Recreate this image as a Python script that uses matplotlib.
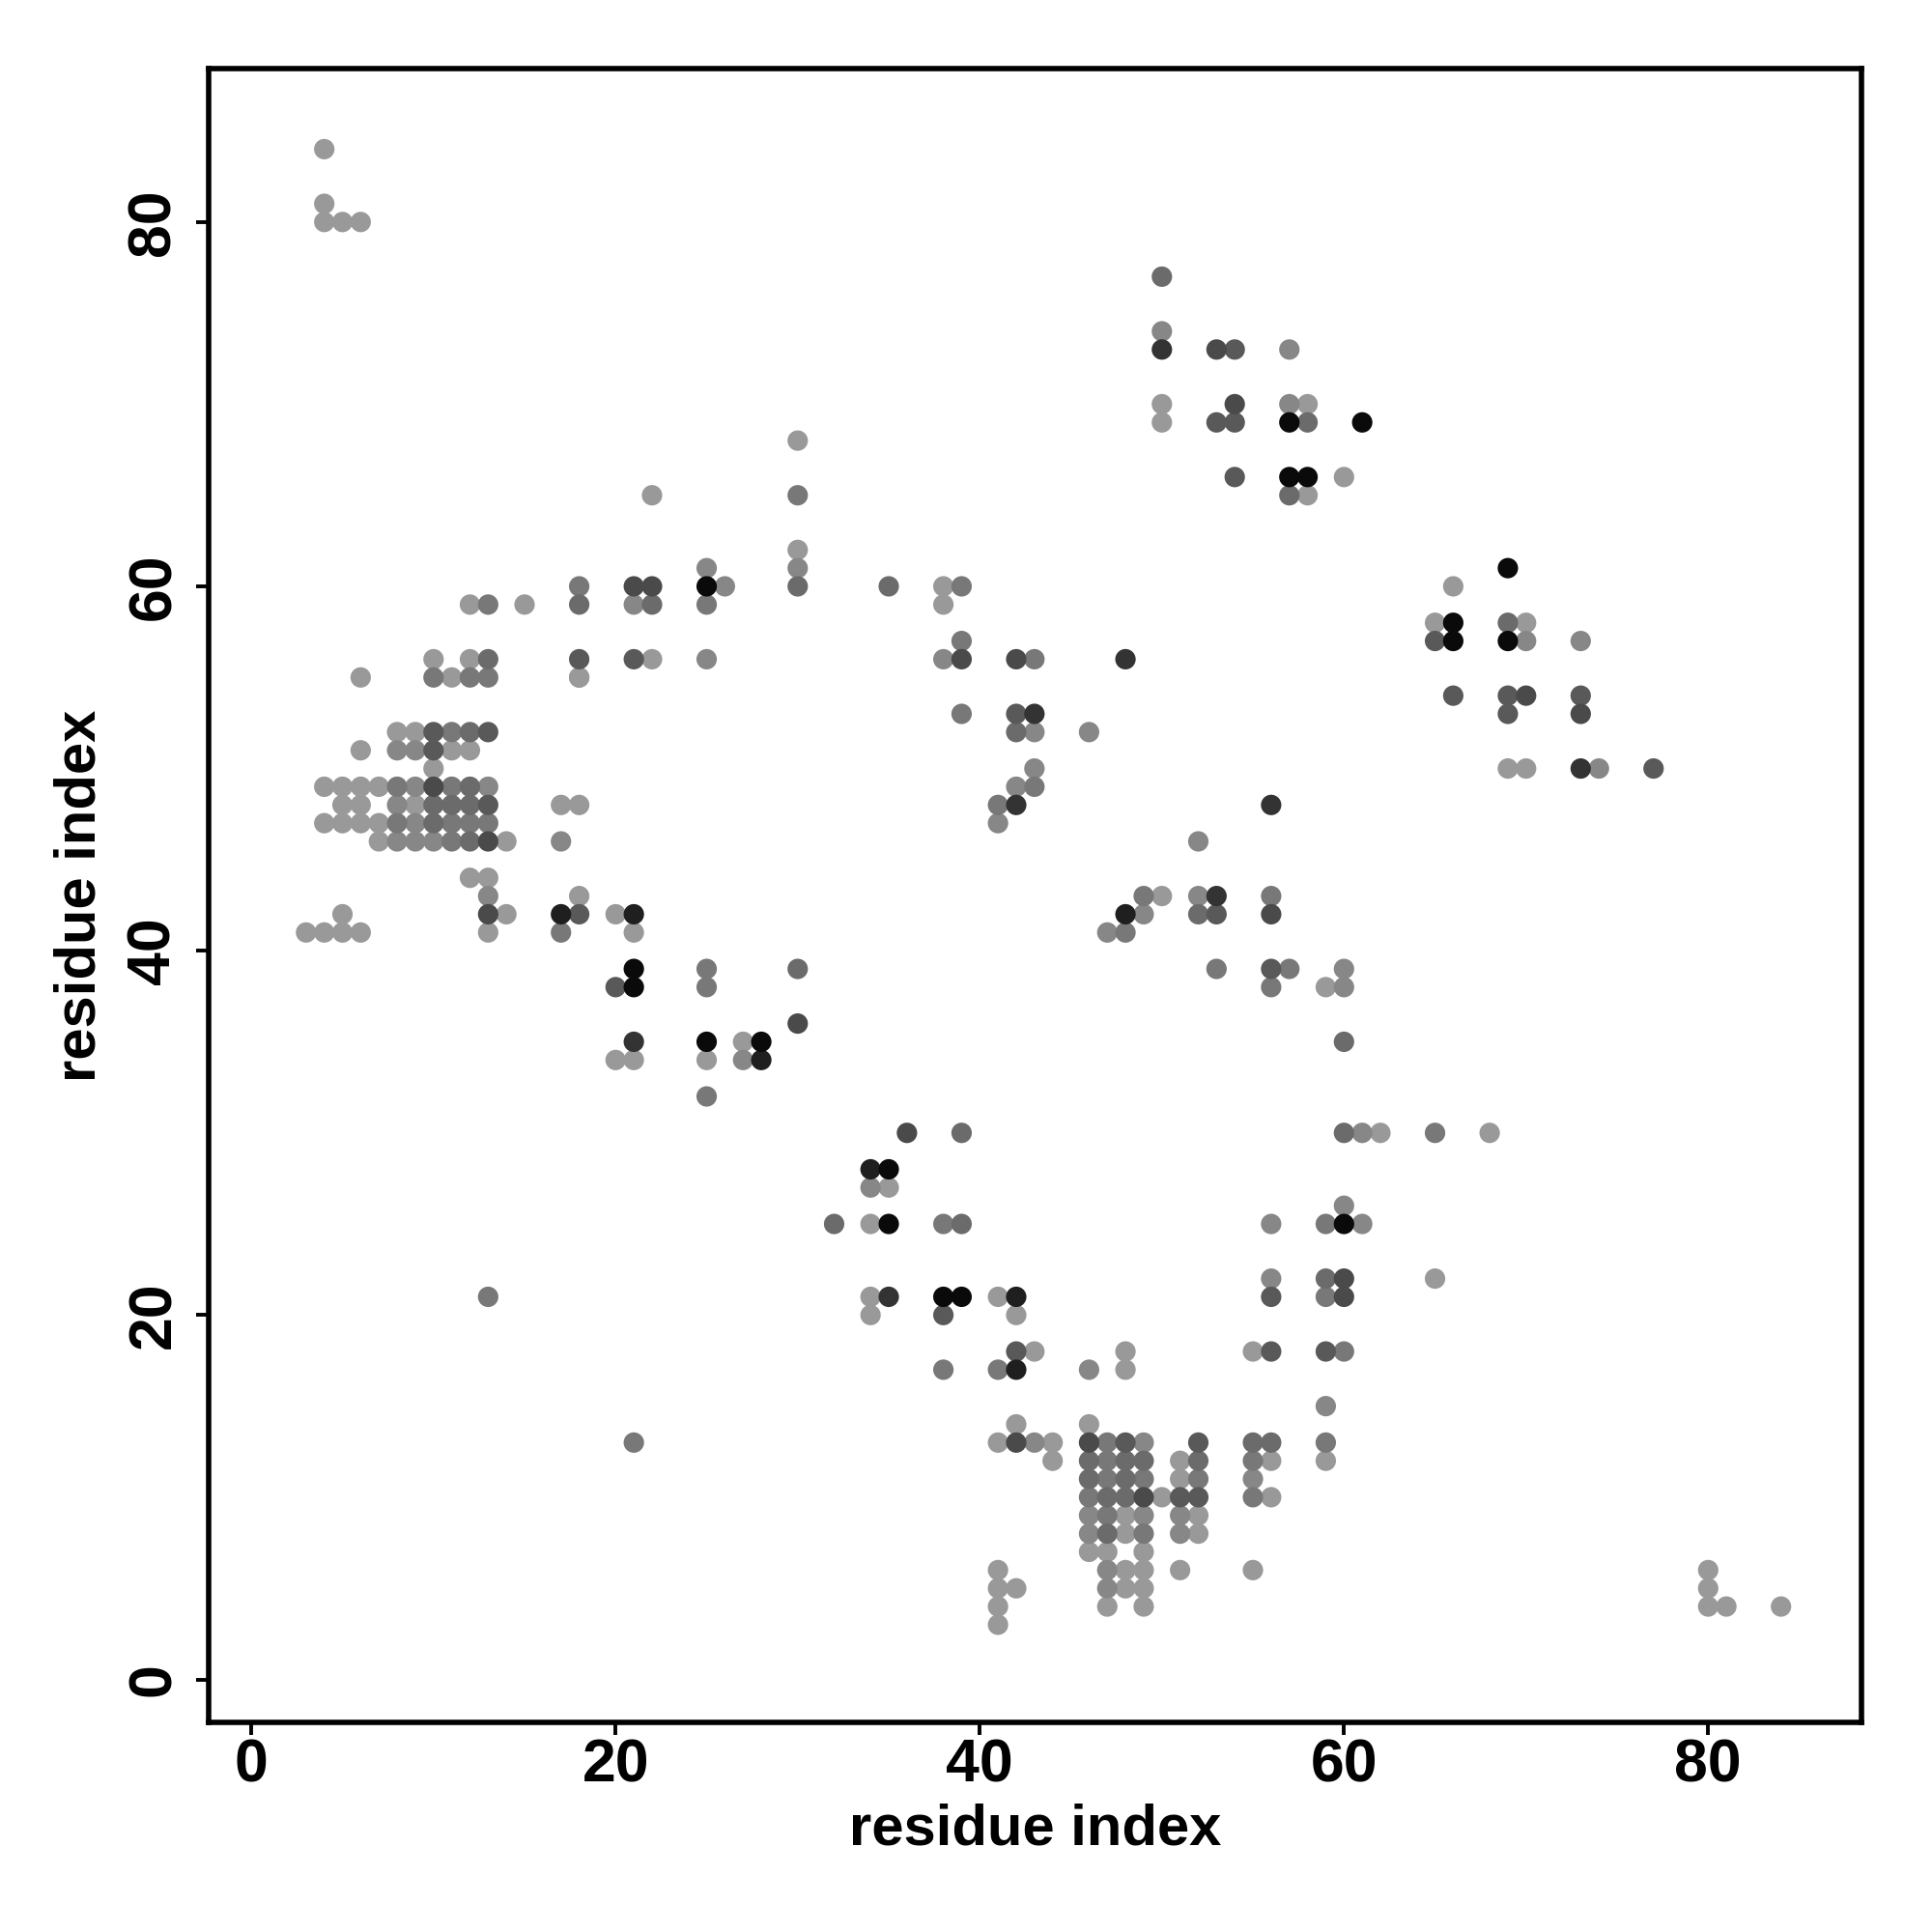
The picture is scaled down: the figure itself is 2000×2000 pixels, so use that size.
import matplotlib
matplotlib.use("Agg")
import matplotlib.pyplot as plt

# contact map points, grouped by grey shade (0 = black, 1 = white)
# each list holds (residue i, residue j)
light = [(4,84),(4,81),(4,80),(5,80),(6,80),
         (10,56),(12,56),(6,55),(11,55),(18,55),(8,52),(9,52),(6,51),(11,51),(12,51),(10,50),
         (4,49),(5,49),(6,49),(7,49),(5,48),(6,48),(9,48),(17,48),(18,48),
         (4,47),(5,47),(6,47),(7,47),(7,46),(14,46),(12,44),(13,44),(18,43),
         (5,42),(14,42),(20,42),(3,41),(4,41),(5,41),(6,41),(13,41),(21,41),
         (30,68),(22,65),(30,62),(15,59),(22,56),(18,55),(12,59),
         (27,35),(20,34),(21,34),(25,34),
         (35,27),(34,25),(34,21),(41,21),(34,20),(42,20),(43,18),
         (38,60),(38,59),
         (48,17),(48,18),(42,14),(46,14),(41,13),(44,13),(44,12),(51,12),(51,11),(50,10),
         (48,9),(52,9),(48,8),(52,8),(46,7),(47,7),(49,7),(41,6),(48,6),(49,6),(51,6),
         (41,5),(42,5),(48,5),(49,5),(41,4),(47,4),(49,4),(41,3),
         (62,30),(68,30),(65,22),(55,18),(56,12),(59,12),(56,10),(55,6),
         (50,43),(59,38),
         (50,70),(58,70),(50,69),(60,66),(58,65),
         (66,60),(65,58),(70,58),(69,50),(70,50),
         (80,6),(80,5),(80,4),(81,4),(84,4)]
mid_light = [(8,51),(9,51),(9,49),(13,49),(8,48),(9,47),(8,46),(9,46),(10,46),(17,46),(13,43),
             (25,61),(30,61),(21,59),(25,56),(26,60),
             (27,34),(34,27),(43,52),(46,52),(43,50),(42,49),(41,47),(38,56),
             (46,17),(43,13),(49,13),(46,9),(49,9),(51,9),(46,8),(51,8),(47,6),(47,5),
             (61,30),(60,26),(56,25),(61,25),(56,22),(59,15),(55,11),
             (52,46),(52,43),(49,42),(47,41),(60,39),(60,38),
             (50,74),(57,73),(57,70),(70,57),(73,57),(74,50)]
mid = [(10,55),(12,55),(13,55),(11,52),(8,49),(11,49),(8,47),(11,47),(12,47),(13,47),(11,46),(17,41),
       (30,65),(18,60),(25,59),(13,59),
       (25,39),(25,38),(25,32),(38,25),(38,17),(41,17),
       (39,60),(39,57),(43,56),(39,53),(43,49),(41,48),
       (47,13),(47,12),(47,11),(49,11),(52,11),(46,10),(47,9),(49,8),
       (65,30),(59,25),(59,21),(60,18),(59,13),(55,12),(55,10),
       (49,43),(56,43),(48,41),(53,39),(57,39),(56,38),
       (13,21),(21,13)]
mid_dark = [(13,56),(12,52),(12,49),(10,48),(11,48),(12,48),(10,47),(12,46),
            (30,60),(18,59),(22,59),(35,60),(30,39),
            (39,30),(32,25),(39,25),(42,52),
            (46,12),(48,12),(49,12),(52,12),(46,11),(48,11),(47,10),(48,10),(47,8),
            (60,30),(59,22),(55,13),(56,13),
            (52,42),(60,35),(50,77),(58,69),(57,65),(69,58)]
dark = [(18,56),(10,52),(13,52),(10,51),(13,48),(18,42),
        (21,56),(20,38),(38,20),(42,18),(42,53),
        (48,13),(52,13),(51,10),(52,10),
        (56,21),(56,18),(59,18),(53,42),(56,39),
        (54,73),(53,69),(54,69),(54,66),
        (65,57),(66,54),(69,54),(73,54),(69,53),(77,50)]
darker = [(10,49),(13,46),(13,42),(21,60),(22,60),(30,36),(36,30),
          (39,56),(42,56),(42,13),(46,13),(49,10),
          (60,22),(60,21),(56,42),(53,73),(54,70),(70,54),(73,53)]
near_black = [(21,35),(35,21),(48,56),(43,53),(42,48),(53,43),(56,48),(50,73),(73,50)]
blackish = [(17,42),(21,42),(28,34),(34,28),(42,21),(42,17),(48,42)]
black = [(25,60),(21,39),(21,38),(25,35),(28,35),(35,28),(35,25),(38,21),(39,21),
         (60,25),(57,69),(61,69),(57,66),(58,66),(69,61),(66,58),(66,57),(69,57)]

groups = [(light, 0.60), (mid_light, 0.53), (mid, 0.47), (mid_dark, 0.42), (dark, 0.35),
          (darker, 0.29), (near_black, 0.20), (blackish, 0.12), (black, 0.04)]

ticks = [0, 20, 40, 60, 80]

plt.rcParams['font.family'] = ['Liberation Sans', 'DejaVu Sans']
plt.rcParams['font.weight'] = 'bold'

fig = plt.figure(figsize=(10, 10), dpi=200)
ax = fig.add_axes([0.1078, 0.1084, 0.9636 - 0.1078, 0.9643 - 0.1084])

for pts, g in groups:
    xs = [p[0] for p in pts]
    ys = [p[1] for p in pts]
    ax.scatter(xs, ys, s=58, c=str(g), edgecolors='none', zorder=3)

ax.set_xlim(-2.37, 88.43)
ax.set_ylim(-2.37, 88.4)
ax.set_xticks(ticks)
ax.set_yticks(ticks)
ax.set_xticklabels([str(t) for t in ticks], fontsize=22.5, fontweight='bold')
ax.set_yticklabels([str(t) for t in ticks], fontsize=22.5, fontweight='bold',
                   rotation=90, va='center')
ax.tick_params(axis='x', direction='out', length=4.6, width=1.4, pad=1)
ax.tick_params(axis='y', direction='out', length=4.6, width=1.4, pad=5)
for sp in ax.spines.values():
    sp.set_linewidth(2.0)

ax.set_xlabel('residue index', fontsize=21.5, fontweight='bold', labelpad=3)
ax.set_ylabel('residue index', fontsize=21.5, fontweight='bold', labelpad=7)

fig.savefig('out.png', dpi=200, facecolor='white')
